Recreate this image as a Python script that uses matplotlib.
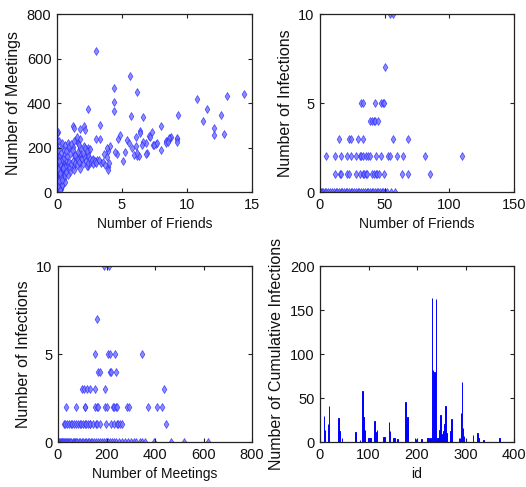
import matplotlib
matplotlib.use("Agg")
import matplotlib.pyplot as plt
from matplotlib import font_manager

# ---------------- data ----------------
p1_friends = [3.0, 5.6, 6.16, 4.4, 4.4, 4.4, 2.35, 5.68, 6.65, 3.3, 0.05, 1.23, 1.28, 2.1, 2.17, 1.8,
              8.0, 9.28, 10.74, 11.5, 11.2, 12.05, 12.1, 12.6, 13.07, 12.84, 14.38,
              3.3, 3.0, 4.7, 4.86, 5.4, 6.1, 6.4, 6.1, 6.85, 6.9, 7.1, 7.28, 7.6, 7.4, 8.4, 8.6,
              8.7, 8.8, 7.97, 9.2, 9.25, 5.5, 5.75, 6.14, 5.9, 6.34, 5.24, 5.04, 4.6, 4.48, 3.96,
              4.04, 3.84, 3.58, 3.84, 3.96, 4.0, 3.4, 2.94, 3.07, 2.76, 2.35, 2.3, 2.35, 2.35,
              2.05, 1.79, 1.59, 1.66, 1.94, 1.74, 1.53, 1.28,
              7.15, 6.38, 6.64, 6.5, 6.18, 6.88, 7.46, 7.66, 8.38, 8.64, 8.5, 9.2,
              0.02, 0.05, 0.03, 0.08, 0.1, 0.05, 0.12, 0.02, 0.15, 0.08, 0.2, 0.1, 0.05, 0.18,
              0.25, 0.12, 0.3, 0.22, 0.08, 0.35, 0.15, 0.28, 0.05, 0.4, 0.45, 0.5, 0.38, 0.42,
              0.3, 0.35, 0.25, 0.2, 0.3, 0.15, 0.22, 0.12, 0.18, 0.28, 0.4, 0.55, 0.6, 0.5, 0.6,
              0.55, 0.65, 0.7, 0.75, 0.8, 0.48, 0.02, 0.0, 0.0, 0.02, 0.05, 0.0, 0.1, 0.3, 0.35,
              0.5, 0.6, 0.15, 0.36, 0.62, 0.87, 0.92, 1.25, 1.44, 2.15, 2.36, 2.4, 1.77, 1.3,
              0.9, 1.0, 1.1, 1.2, 1.3, 1.4, 1.5, 1.6, 1.7, 1.8, 1.9, 2.0, 2.1, 2.2, 2.3, 2.4,
              2.5, 2.6, 2.7, 2.8, 2.9, 3.0, 3.2, 3.5, 3.7, 3.9, 1.0, 1.2, 1.4, 1.6, 1.8, 2.0,
              2.3, 2.5, 0.8, 0.7, 0.9, 1.1, 1.3, 1.5, 1.7, 1.0, 0.85,
              0.06, 0.14, 0.22, 0.33, 0.44, 0.07, 0.17, 0.27, 0.37, 0.47, 0.09, 0.19, 0.29,
              0.39, 0.52, 0.04, 0.13, 0.24, 0.58, 0.68,
              0.03, 0.11, 0.21, 0.31, 0.16, 0.26, 0.09, 0.19, 0.34, 0.43, 0.01, 0.07, 0.23,
              0.14, 0.32, 0.04, 0.26, 0.12, 0.36, 0.2]
p1_meetings = [635, 523, 450, 466, 404, 362, 371, 342, 336, 300, 269, 296, 286, 296, 277, 281,
               296, 347, 416, 375, 318, 289, 256, 345, 430, 261, 441,
               239, 239, 239, 254, 233, 248, 274, 206, 221, 176, 251, 270, 214, 209, 229, 236,
               244, 247, 188, 236, 244, 221, 199, 161, 166, 164, 179, 139, 169, 179, 184,
               206, 199, 169, 158, 114, 132, 129, 136, 142, 147, 117, 161, 199, 184,
               206, 236, 218, 169, 161, 132, 147, 117,
               247, 264, 226, 211, 175, 172, 211, 220, 222, 242, 226, 226,
               5, 12, 20, 28, 35, 42, 50, 58, 65, 72, 80, 88, 95, 100,
               108, 115, 120, 128, 135, 140, 148, 155, 165, 130, 118, 105, 95, 85,
               75, 62, 55, 45, 38, 30, 22, 15, 8, 12, 25, 60, 45, 80, 95,
               130, 115, 100, 125, 140, 150, 110, 130, 200, 180, 230, 265, 190, 175, 205,
               190, 170, 231, 219, 211, 219, 196, 204, 234, 196, 181, 166, 174, 166,
               135, 110, 125, 140, 100, 130, 120, 145, 135, 105, 150, 125, 160, 140, 115, 130,
               150, 135, 145, 125, 140, 130, 145, 135, 120, 100, 170, 190, 165, 180, 200, 175,
               185, 195, 160, 185, 205, 215, 230, 245, 210, 90, 75,
               18, 32, 48, 68, 78, 102, 122, 138, 112, 92, 62, 52, 42, 33, 70, 145, 158, 98,
               112, 88,
               40, 55, 70, 90, 105, 120, 135, 60, 80, 110, 150, 25, 10, 48, 66, 102, 126, 140,
               52, 86]

# panel 2: number of friends of users, grouped by their number of infections
p2_levels = [10, 7, 5, 4, 3, 2, 1, 0]
p2_friends_by_level = [
    [54, 56.5],
    [50],
    [31.9, 33.2, 42.9, 47.5, 48.8, 49.8],
    [38.5, 40.1, 41.6, 42.6, 45.2],
    [14.9, 22.6, 24.1, 29.5, 32.9, 56.5, 68.1],
    [4.9, 11.3, 16.4, 20.6, 24.1, 27.7, 30.8, 31.9, 32.9, 35.5, 37, 38.5, 43.2, 47.5,
     52.7, 54.5, 59.9, 64.2, 80.9, 109.7],
    [11.3, 15.4, 16.4, 20.6, 22.6, 27.7, 31.3, 32.9, 33.9, 35.2, 36.5, 40.3, 41.6,
     43.2, 44.2, 45.7, 49.8, 63.5, 67.8, 85.3],
    [0.5, 1.5, 2.5, 4, 5, 6.5, 8, 9, 10.5, 12, 13, 14.5, 16, 17, 18.5, 20, 21, 22.5,
     24, 25, 26.5, 28, 29, 30.5, 32, 33, 34.5, 36, 37, 38.5, 40, 41, 42.5, 44, 45,
     46.5, 48, 49, 50.5, 52, 55, 58],
]

# panel 3: number of meetings of users, grouped by their number of infections
p3_levels = [10, 7, 5, 4, 3, 2, 1, 0]
p3_meetings_by_level = [
    [188, 212],
    [160],
    [153, 205.5, 215, 233, 345],
    [164, 174, 215, 219, 240],
    [99, 108, 119, 130, 153, 192, 438],
    [34, 75, 110, 112, 153, 160, 164, 195, 201, 226, 231, 240, 245, 284, 293, 370,
     407, 427],
    [23, 30, 38, 45, 52, 59, 66, 73, 82, 89, 96, 103, 110, 116, 123, 130, 133, 144,
     155, 160, 174, 199, 218, 229, 242, 249, 256, 263, 444],
    [2, 5, 8, 12, 15, 18, 22, 26, 30, 34, 38, 42, 46, 50, 55, 60, 65, 70, 75, 80, 86,
     92, 98, 104, 110, 116, 122, 128, 135, 142, 150, 158, 166, 174, 182, 190, 198,
     206, 214, 222, 230, 240, 250, 262, 275, 290, 300, 312, 320, 338, 345, 360, 395,
     465, 520, 620],
]

p4_ids = [8, 10, 17, 19, 38, 40, 45, 73, 82, 88, 90, 93, 100, 102, 104, 112, 114, 117,
          131, 133, 142, 144, 152, 154, 160, 176, 178, 180, 181, 196, 198, 200, 209,
          222, 224, 228, 231, 233, 236, 239, 242, 244, 246, 248, 251, 253, 255, 257, 259,
          261, 269, 271, 287, 289, 291, 293, 295, 297, 315, 325, 327, 337, 370]
p4_cum = [30, 14, 21, 41, 27, 13, 4, 11, 2, 58, 28, 14, 4, 5, 5, 24, 11, 14,
          6, 6, 23, 12, 5, 5, 3, 45, 21, 28, 17, 4, 3, 3, 3,
          5, 5, 4, 164, 82, 80, 162, 5, 4, 14, 31, 6, 9, 12, 20, 41,
          10, 12, 26, 4, 4, 33, 68, 16, 7, 8, 10, 5, 2, 5]


def flatten(levels, groups):
    xs, ys = [], []
    for lev, grp in zip(levels, groups):
        xs.extend(grp)
        ys.extend([lev] * len(grp))
    return xs, ys


p2_friends, p2_infections = flatten(p2_levels, p2_friends_by_level)
p3_meetings, p3_infections = flatten(p3_levels, p3_meetings_by_level)

# ---------------- fonts ----------------
installed = {f.name for f in font_manager.fontManager.ttflist}
if "Liberation Sans Narrow" in installed:
    TICK_FONT = ["Liberation Sans Narrow", "DejaVu Sans"]
    TICK_SIZE = 12
    XLAB_SIZE = 12
else:
    TICK_FONT = ["Liberation Sans", "DejaVu Sans"]
    TICK_SIZE = 10.5
    XLAB_SIZE = 10
YLAB_FONT = ["Liberation Sans", "DejaVu Sans"]

# ---------------- layout ----------------
W, H = 526, 487
fig = plt.figure(figsize=(W / 100, H / 100), dpi=100)
fig.patch.set_facecolor("white")


def make_ax(l, r, t, b):
    return fig.add_axes([l / W, 1 - b / H, (r - l) / W, (b - t) / H])


def style(ax, xlim, ylim, xticks, yticks, xlabel, ylabel):
    ax.set_xlim(*xlim)
    ax.set_ylim(*ylim)
    ax.set_xticks(xticks)
    ax.set_yticks(yticks)
    ax.tick_params(direction="in", top=True, right=True, length=3, width=0.8,
                   colors="#222222", labelcolor="#111111", pad=4)
    for lab in ax.get_xticklabels() + ax.get_yticklabels():
        lab.set_family(TICK_FONT)
        lab.set_fontsize(TICK_SIZE)
    for s in ax.spines.values():
        s.set_linewidth(0.9)
        s.set_color("#222222")
    ax.set_xlabel(xlabel, family=TICK_FONT, fontsize=XLAB_SIZE, labelpad=4, color="#111111")
    ax.set_ylabel(ylabel, family=YLAB_FONT, fontsize=11.5, labelpad=4, color="#111111")


mk = dict(marker="d", s=16, facecolors="#7878ff", edgecolors="#2a2aff",
          linewidths=0.5, alpha=0.85)

ax1 = make_ax(57, 252, 14, 192)
ax1.scatter(p1_friends, p1_meetings, **mk)
style(ax1, (0, 15), (0, 800), [0, 5, 10, 15], [0, 200, 400, 600, 800],
      "Number of Friends", "Number of Meetings")

ax2 = make_ax(320, 514, 14, 192)
ax2.scatter(p2_friends, p2_infections, **mk)
style(ax2, (0, 150), (0, 10), [0, 50, 100, 150], [0, 5, 10],
      "Number of Friends", "Number of Infections")

ax3 = make_ax(58, 252, 266, 442)
ax3.scatter(p3_meetings, p3_infections, **mk)
style(ax3, (0, 800), (0, 10), [0, 200, 400, 600, 800], [0, 5, 10],
      "Number of Meetings", "Number of Infections")

ax4 = make_ax(320, 514, 266, 442)
ax4.bar(p4_ids, p4_cum, width=1.0, color="#0000ff", edgecolor="#0000ff", linewidth=0.7)
style(ax4, (0, 400), (0, 200), [0, 100, 200, 300, 400], [0, 50, 100, 150, 200],
      "id", "Number of Cumulative Infections")

fig.savefig("out.png", dpi=100)
